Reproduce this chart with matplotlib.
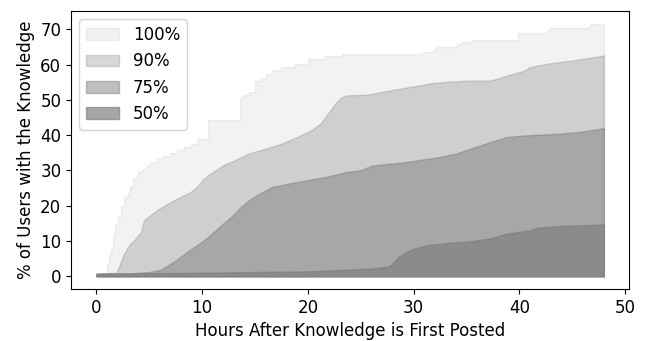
import matplotlib
matplotlib.use("Agg")
import matplotlib.pyplot as plt

# Share of users holding a piece of knowledge, by hours since it was first posted
labels = ["100%", "90%", "75%", "50%"]

hours_100 = [0, 0.9, 1.0, 1.2, 1.4, 1.6, 1.8, 2.0, 2.3, 2.6, 3.0, 3.2, 3.5, 3.9, 4.3,
             4.8, 5.2, 5.7, 6.3, 7.0, 7.6, 8.3, 8.9, 9.5, 10.6, 13.6, 14.0, 14.4,
             15.0, 15.6, 16.0, 16.6, 17.5, 18.8, 20.0, 21.6, 23.2, 30.9, 31.9, 32.2,
             34.1, 34.6, 35.5, 39.9, 42.6, 42.9, 46.5, 46.7, 48.0]
users_100 = [0.7, 1.5, 3.5, 6.0, 8.0, 12.0, 14.5, 17.0, 20.0, 22.5, 23.5, 25.5, 28.0,
             29.5, 30.5, 31.5, 32.5, 33.5, 34.2, 35.0, 35.8, 36.8, 37.6, 38.8, 44.2,
             50.8, 51.5, 52.3, 55.5, 56.3, 57.4, 58.4, 59.3, 60.3, 61.7, 62.6, 63.1,
             63.6, 64.5, 65.0, 65.9, 66.4, 66.9, 69.0, 69.7, 70.3, 70.8, 71.6, 71.6]

hours_90 = [0, 1.9, 2.0, 2.3, 2.6, 3.2, 3.5, 4.2, 4.5, 5.1, 5.7, 6.4, 7.3, 8.2, 8.9,
            9.5, 10.1, 10.7, 11.25, 12.0, 12.8, 14.4, 16.0, 17.5, 19.0, 20.3, 21.2,
            22.1, 22.7, 23.2, 23.7, 25.6, 27.2, 28.7, 30.3, 31.8, 33.4, 35.3, 37.2,
            37.9, 38.8, 40.4, 41.0, 42.9, 45.1, 48.0]
users_90 = [0.8, 1.0, 1.7, 4.0, 6.4, 9.3, 10.0, 12.5, 15.9, 17.3, 18.7, 20.0, 21.5,
            22.9, 23.9, 25.3, 27.5, 29.0, 30.0, 31.5, 32.5, 34.8, 36.2, 37.6, 39.5,
            41.4, 43.3, 47.0, 49.4, 50.8, 51.3, 51.5, 52.4, 53.2, 54.0, 54.8, 55.2,
            55.5, 55.5, 56.0, 56.9, 58.2, 59.3, 60.4, 61.2, 62.6]

hours_75 = [0, 3.0, 5.0, 6.0, 6.7, 7.5, 8.3, 9.0, 10.0, 10.5, 11.25, 12.0, 12.8,
            13.6, 14.4, 15.4, 16.6, 18.2, 19.8, 21.6, 23.5, 24.9, 26.1, 29.3, 32.4,
            34.0, 35.3, 37.2, 38.8, 40.4, 43.5, 45.7, 48.0]
users_75 = [0.7, 0.8, 1.2, 1.8, 3.0, 4.5, 6.3, 7.8, 9.8, 11.0, 13.0, 15.0, 17.0,
            19.5, 21.5, 23.4, 25.3, 26.3, 27.2, 28.1, 29.5, 30.0, 31.4, 32.4, 33.8,
            34.8, 36.1, 38.0, 39.5, 39.9, 40.4, 40.9, 42.0]

hours_50 = [0, 10.0, 20.0, 24.0, 26.0, 27.2, 27.8, 28.4, 29.0, 30.0, 31.3, 33.5,
            35.5, 37.2, 38.8, 41.0, 41.6, 43.5, 48.0]
users_50 = [0.7, 1.0, 1.4, 1.9, 2.2, 2.6, 3.0, 5.0, 6.4, 7.8, 8.8, 9.5, 10.0, 10.7,
            12.1, 13.0, 13.7, 14.2, 14.7]

series = [
    (hours_100, users_100, 0.1, "post"),
    (hours_90, users_90, 0.3, None),
    (hours_75, users_75, 0.5, None),
    (hours_50, users_50, 0.7, None),
]

plt.rcParams["font.family"] = "DejaVu Sans"
plt.rcParams["font.size"] = 12

fig = plt.figure(figsize=(6.46, 3.41), dpi=100)
ax = fig.add_axes([0.110, 0.1525, 0.864, 0.815])

for (x, y, alpha, step), label in zip(series, labels):
    ax.fill_between(x, 0, y, step=step, color="gray", alpha=alpha, label=label)

ax.set_xlim(-2.4, 50.4)
ax.set_ylim(-3.6, 75.2)
ax.set_xticks(range(0, 51, 10))
ax.set_yticks(range(0, 71, 10))
ax.set_xlabel("Hours After Knowledge is First Posted")
ax.set_ylabel("% of Users with the Knowledge")
ax.legend(loc="upper left", fontsize=12)

fig.savefig("out.png", dpi=100)
